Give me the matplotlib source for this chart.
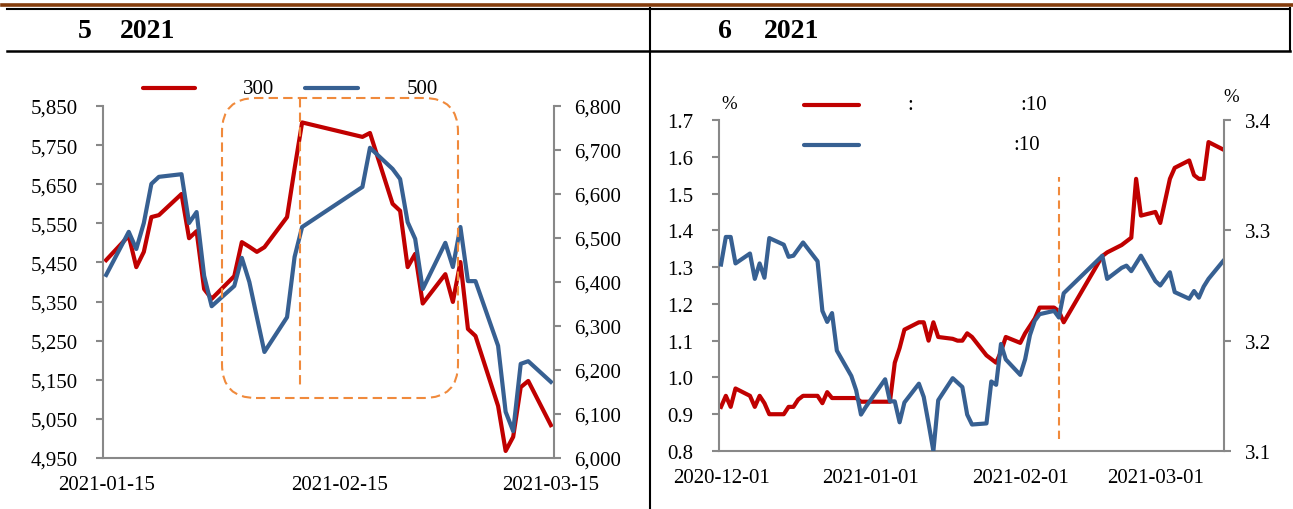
import numpy as np
import pandas as pd
import matplotlib
matplotlib.use('Agg')
import matplotlib.pyplot as plt
from matplotlib.dates import DateFormatter
from matplotlib.lines import Line2D
from matplotlib.patches import FancyBboxPatch
from matplotlib.ticker import StrMethodFormatter
from matplotlib.transforms import IdentityTransform

# ---- data: left panel (index levels) ----
left_dates = ['2021-01-15', '2021-01-18', '2021-01-19', '2021-01-20', '2021-01-21', '2021-01-22',
              '2021-01-25', '2021-01-26', '2021-01-27', '2021-01-28', '2021-01-29',
              '2021-02-01', '2021-02-02', '2021-02-03', '2021-02-04', '2021-02-05',
              '2021-02-08', '2021-02-09', '2021-02-10', '2021-02-18', '2021-02-19',
              '2021-02-22', '2021-02-23', '2021-02-24', '2021-02-25', '2021-02-26',
              '2021-03-01', '2021-03-02', '2021-03-03', '2021-03-04', '2021-03-05',
              '2021-03-08', '2021-03-09', '2021-03-10', '2021-03-11', '2021-03-12', '2021-03-15']
hs300 = [5456, 5518, 5438, 5477, 5566, 5571, 5625, 5512, 5530, 5382, 5357,
         5415, 5502, 5490, 5477, 5489, 5566, 5690, 5808, 5771, 5781,
         5600, 5582, 5438, 5472, 5345, 5420, 5349, 5451, 5280, 5262,
         5083, 4968, 5004, 5131, 5147, 5034]
zz500 = [6416, 6514, 6475, 6534, 6623, 6639, 6645, 6534, 6559, 6414, 6345,
         6391, 6455, 6400, 6320, 6241, 6320, 6457, 6525, 6616, 6705,
         6657, 6634, 6536, 6498, 6384, 6489, 6434, 6525, 6402, 6402,
         6255, 6105, 6061, 6214, 6220, 6173]
left_ticks = ['2021-01-15', '2021-02-15', '2021-03-15']

# ---- data: right panel (10y yields, %) ----
right_dates = (['2020-12-%02d' % d for d in [1, 2, 3, 4, 7, 8, 9, 10, 11, 14, 15, 16, 17, 18,
                                            21, 22, 23, 24, 25, 28, 29, 30, 31]] +
               ['2021-01-%02d' % d for d in [4, 5, 6, 7, 8, 11, 12, 13, 14, 15, 18, 19, 20,
                                            21, 22, 25, 26, 27, 28, 29]] +
               ['2021-02-%02d' % d for d in [1, 2, 3, 4, 5, 8, 9, 10, 18, 19, 22, 23, 24, 25, 26]] +
               ['2021-03-%02d' % d for d in [1, 2, 3, 4, 5, 8, 9, 10, 11, 12, 15]])
us10y = [0.92, 0.95, 0.92, 0.97, 0.95, 0.92, 0.95, 0.93, 0.90, 0.90, 0.92, 0.92, 0.94, 0.95,
         0.95, 0.93, 0.96, 0.944, 0.944, 0.944, 0.944, 0.934, 0.934,
         0.934, 0.934, 1.04, 1.08, 1.13, 1.15, 1.15, 1.10, 1.15, 1.11, 1.105, 1.10, 1.10,
         1.12, 1.11, 1.06, 1.05, 1.04, 1.07, 1.11,
         1.094, 1.12, 1.14, 1.16, 1.19, 1.19, 1.18, 1.15, 1.33, 1.34, 1.36, 1.37, 1.38, 1.54, 1.44,
         1.45, 1.42, 1.48, 1.54, 1.57, 1.59, 1.55, 1.54, 1.54, 1.64, 1.62]
cn10y = [3.269, 3.294, 3.294, 3.270, 3.279, 3.256, 3.270, 3.257, 3.293, 3.287, 3.276, 3.277,
         3.283, 3.289, 3.272, 3.227, 3.217, 3.225, 3.191, 3.168, 3.155, 3.133, 3.140,
         3.165, 3.145, 3.145, 3.126, 3.144, 3.161, 3.149, 3.125, 3.100, 3.146, 3.166, 3.162,
         3.158, 3.133, 3.124, 3.125, 3.163, 3.160, 3.197, 3.183,
         3.169, 3.183, 3.205, 3.218, 3.224, 3.227, 3.221, 3.243, 3.277, 3.256, 3.266, 3.268,
         3.263, 3.270, 3.277,
         3.254, 3.250, 3.256, 3.262, 3.244, 3.238, 3.245, 3.239, 3.249, 3.256, 3.272]
right_ticks = ['2020-12-01', '2021-01-01', '2021-02-01', '2021-03-01']

RED = '#C00000'
BLUE = '#376092'
GRAY = '#888888'
ORANGE = '#F08A3C'
BROWN = '#843C0C'

W, H = 1293, 510
plt.rcParams['font.family'] = ['Liberation Serif', 'DejaVu Serif']
plt.rcParams['font.size'] = 15

fig = plt.figure(figsize=(W / 100, H / 100), dpi=100)


def fx(px):
    return px / W


def fy(py):
    return 1 - py / H


def style_axes(ax, axr, ypad_l, ypad_r, xpad):
    for s in ['top', 'right']:
        ax.spines[s].set_visible(False)
    for s in ['top', 'left', 'bottom']:
        axr.spines[s].set_visible(False)
    for sp in [ax.spines['left'], ax.spines['bottom'], axr.spines['right']]:
        sp.set_color(GRAY)
        sp.set_linewidth(1.5)
    ax.tick_params(axis='y', length=5, width=1.5, color=GRAY, pad=ypad_l, labelsize=15)
    axr.tick_params(axis='y', length=5, width=1.5, color=GRAY, pad=ypad_r, labelsize=15)
    ax.tick_params(axis='x', length=0, pad=xpad, labelsize=15)


# ---------------- left panel ----------------
ax1 = fig.add_axes([fx(103), fy(459), fx(554 - 103), (459 - 107) / H])
ax1r = ax1.twinx()
d1 = pd.to_datetime(left_dates)
ax1.plot(d1, hs300, color=RED, lw=3)
ax1r.plot(d1, zz500, color=BLUE, lw=3)
ax1.set_ylim(4950, 5850)
ax1.set_yticks(np.arange(4950, 5851, 100))
ax1r.set_ylim(6000, 6800)
ax1r.set_yticks(np.arange(6000, 6801, 100))
ax1.yaxis.set_major_formatter(StrMethodFormatter('{x:,.0f}'))
ax1r.yaxis.set_major_formatter(StrMethodFormatter('{x:,.0f}'))
ax1.set_xlim(pd.Timestamp('2021-01-15') - pd.Timedelta(hours=10),
             pd.Timestamp('2021-03-15') + pd.Timedelta(hours=10))
ax1.set_xticks(pd.to_datetime(left_ticks))
ax1.xaxis.set_major_formatter(DateFormatter('%Y-%m-%d'))
style_axes(ax1, ax1r, 13, 9.5, 12)

# ---------------- right panel ----------------
ax2 = fig.add_axes([fx(719), fy(452), fx(1224 - 719), (452 - 121) / H])
ax2r = ax2.twinx()
d2 = pd.to_datetime(right_dates)
ax2.plot(d2, us10y, color=RED, lw=3)
ax2r.plot(d2, cn10y, color=BLUE, lw=3)
ax2.set_ylim(0.8, 1.7)
ax2.set_yticks(np.round(np.arange(0.8, 1.71, 0.1), 1))
ax2r.set_ylim(3.1, 3.4)
ax2r.set_yticks(np.round(np.arange(3.1, 3.41, 0.1), 1))
ax2.yaxis.set_major_formatter(StrMethodFormatter('{x:.1f}'))
ax2r.yaxis.set_major_formatter(StrMethodFormatter('{x:.1f}'))
ax2.set_xlim(pd.Timestamp('2020-12-01') - pd.Timedelta(hours=10),
             pd.Timestamp('2021-03-15') + pd.Timedelta(hours=5))
ax2.set_xticks(pd.to_datetime(right_ticks))
ax2.xaxis.set_major_formatter(DateFormatter('%Y-%m-%d'))
style_axes(ax2, ax2r, 13.5, 10, 12)
ax2.axvline(pd.Timestamp('2021-02-09'), ymin=(452 - 440) / 331, ymax=(452 - 178) / 331,
            color=ORANGE, lw=1.5, ls=(0, (4, 2.5)))

# ---------------- decorations ----------------
box = FancyBboxPatch((222, H - 399), 458 - 222, 399 - 99,
                     boxstyle='round,pad=0,rounding_size=34', transform=IdentityTransform(),
                     fill=False, ec=ORANGE, lw=1.5, ls=(0, (4.5, 2.5)))
fig.add_artist(box)
fig.add_artist(Line2D([300, 300], [H - 99, H - 390], transform=IdentityTransform(),
                      color=ORANGE, lw=1.5, ls=(0, (4.5, 2.5))))

# frame lines
fig.add_artist(Line2D([fx(2), fx(1293)], [fy(5.5)] * 2, color=BROWN, lw=2.6))
fig.add_artist(Line2D([fx(7), fx(1290)], [fy(9.5)] * 2, color='black', lw=1.5))
fig.add_artist(Line2D([fx(7), fx(1290)], [fy(52)] * 2, color='black', lw=1.8))
fig.add_artist(Line2D([fx(650), fx(650)], [fy(9), fy(510)], color='black', lw=1.5))
fig.add_artist(Line2D([fx(1290), fx(1290)], [fy(9), fy(52)], color='black', lw=1.5))

# titles
for x, s in [(78, '5'), (120, '2021'), (718, '6'), (764, '2021')]:
    fig.text(fx(x), fy(31), s, fontsize=20, fontweight='bold', ha='left', va='center')

# legends
fig.add_artist(Line2D([fx(143), fx(195)], [fy(89)] * 2, color=RED, lw=3, solid_capstyle='round'))
fig.add_artist(Line2D([fx(305), fx(358)], [fy(89)] * 2, color=BLUE, lw=3, solid_capstyle='round'))
fig.text(fx(243), fy(89), '300', ha='left', va='center', fontsize=15)
fig.text(fx(407), fy(89), '500', ha='left', va='center', fontsize=15)

fig.add_artist(Line2D([fx(804), fx(859)], [fy(106)] * 2, color=RED, lw=3, solid_capstyle='round'))
fig.add_artist(Line2D([fx(804), fx(859)], [fy(146)] * 2, color=BLUE, lw=3, solid_capstyle='round'))
fig.text(fx(907), fy(106), ':', ha='left', va='center', fontsize=15)
fig.text(fx(1020), fy(106), ':10', ha='left', va='center', fontsize=15)
fig.text(fx(1013), fy(146), ':10', ha='left', va='center', fontsize=15)

fig.text(fx(729), fy(105), '%', ha='center', va='center', fontsize=13.5)
fig.text(fx(1231), fy(98), '%', ha='center', va='center', fontsize=13.5)

fig.savefig('out.png', dpi=100)
